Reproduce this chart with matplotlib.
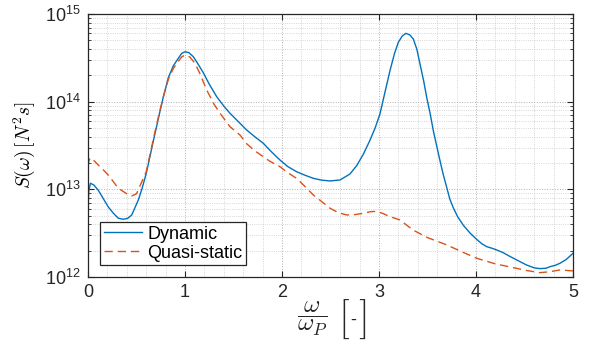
import numpy as np
import matplotlib
matplotlib.use("Agg")
import matplotlib.pyplot as plt
from matplotlib.ticker import LogLocator, MultipleLocator, NullFormatter

plt.rcParams['font.family'] = ['Liberation Sans', 'DejaVu Sans']
plt.rcParams['mathtext.fontset'] = 'cm'

# frequency ratio omega/omega_P and log10 of the spectrum S(omega)
w_dyn = [0.0, 0.008, 0.025, 0.06, 0.106, 0.16, 0.209, 0.26, 0.312, 0.364,
         0.41, 0.451, 0.519, 0.56, 0.60, 0.64, 0.673, 0.71, 0.742, 0.78,
         0.83, 0.88, 0.931, 0.965, 1.0, 1.04, 1.086, 1.14, 1.189, 1.25,
         1.327, 1.40, 1.464, 1.567, 1.636, 1.72, 1.807, 1.89, 1.979, 2.06,
         2.15, 2.24, 2.323, 2.41, 2.495, 2.598, 2.70, 2.77, 2.838, 2.907,
         2.96, 3.01, 3.06, 3.113, 3.16, 3.199, 3.24, 3.278, 3.32, 3.354,
         3.39, 3.423, 3.46, 3.492, 3.53, 3.56, 3.60, 3.629, 3.66, 3.698,
         3.73, 3.766, 3.81, 3.87, 3.94, 4.007, 4.06, 4.11, 4.16, 4.213,
         4.28, 4.35, 4.42, 4.52, 4.60, 4.66, 4.72, 4.763, 4.82, 4.866,
         4.93, 5.0]
logS_dyn = [12.76, 12.98, 13.07, 13.05, 12.99, 12.89, 12.80, 12.73, 12.671, 12.659,
            12.67, 12.708, 12.879, 13.02, 13.18, 13.38, 13.55, 13.73, 13.89, 14.07,
            14.28, 14.41, 14.495, 14.55, 14.57, 14.56, 14.513, 14.42, 14.33, 14.20,
            14.057, 13.95, 13.868, 13.754, 13.677, 13.60, 13.526, 13.43, 13.335, 13.26,
            13.202, 13.16, 13.126, 13.105, 13.096, 13.107, 13.175, 13.27, 13.40, 13.56,
            13.70, 13.86, 14.10, 14.353, 14.55, 14.677, 14.75, 14.78, 14.76, 14.715,
            14.60, 14.43, 14.24, 14.05, 13.85, 13.67, 13.47, 13.327, 13.18, 13.024,
            12.89, 12.79, 12.69, 12.59, 12.50, 12.43, 12.38, 12.347, 12.33, 12.309,
            12.278, 12.235, 12.195, 12.138, 12.105, 12.096, 12.10, 12.118, 12.135, 12.157,
            12.20, 12.27]

w_qs = [0.0, 0.01, 0.025, 0.06, 0.106, 0.16, 0.209, 0.26, 0.312, 0.40,
        0.45, 0.50, 0.54, 0.60, 0.64, 0.673, 0.71, 0.742, 0.78, 0.83,
        0.88, 0.931, 0.965, 1.0, 1.05, 1.103, 1.15, 1.224, 1.30, 1.361,
        1.464, 1.567, 1.636, 1.72, 1.807, 1.876, 1.979, 2.06, 2.15, 2.24,
        2.323, 2.41, 2.495, 2.58, 2.667, 2.75, 2.838, 2.91, 2.976, 3.04,
        3.113, 3.216, 3.35, 3.50, 3.70, 3.85, 4.007, 4.2, 4.385, 4.52,
        4.66, 4.76, 4.866, 5.0]
logS_qs = [13.26, 13.33, 13.36, 13.33, 13.278, 13.22, 13.164, 13.09, 13.013, 12.95,
           12.925, 12.95, 13.05, 13.20, 13.40, 13.57, 13.75, 13.90, 14.07, 14.26,
           14.38, 14.46, 14.51, 14.532, 14.51, 14.438, 14.33, 14.133, 13.97, 13.868,
           13.715, 13.62, 13.52, 13.44, 13.373, 13.32, 13.259, 13.19, 13.126, 13.03,
           12.936, 12.86, 12.785, 12.735, 12.708, 12.712, 12.727, 12.745, 12.75, 12.725,
           12.689, 12.651, 12.537, 12.45, 12.366, 12.29, 12.214, 12.15, 12.107, 12.075,
           12.05, 12.06, 12.081, 12.07]

fig = plt.figure(figsize=(5.89, 3.45), dpi=100)
ax = fig.add_axes([0.1494, 0.197, 0.8234, 0.7623])

ax.plot(w_dyn, 10.0 ** np.array(logS_dyn), color='#0072BD', lw=1.0, label='Dynamic')
ax.plot(w_qs, 10.0 ** np.array(logS_qs), color='#D95319', lw=1.0,
        dashes=(6, 3.5), label='Quasi-static')

ax.set_yscale('log')
ax.set_xlim(0, 5)
ax.set_ylim(1e12, 1e15)
ax.xaxis.set_major_locator(MultipleLocator(1))
ax.xaxis.set_minor_locator(MultipleLocator(0.2))
ax.yaxis.set_major_locator(LogLocator(base=10, numticks=10))
ax.yaxis.set_minor_locator(LogLocator(base=10, subs=np.arange(2, 10), numticks=20))
ax.yaxis.set_minor_formatter(NullFormatter())

ax.grid(True, which='major', linestyle=':', color='#b0b0b0', lw=0.7)
ax.grid(True, which='minor', linestyle=':', color='#c8c8c8', lw=0.6)
ax.set_axisbelow(True)

ax.tick_params(which='both', direction='in', top=True, right=True,
               colors='#262626', labelsize=13)
ax.tick_params(which='major', length=4, width=0.8, pad=5)
ax.tick_params(which='minor', length=2.5, width=0.6)
ax.tick_params(axis='x', which='minor', length=0)
for s in ax.spines.values():
    s.set_color('#262626')
    s.set_linewidth(0.9)

# x label: fraction, then the unit "-" between tall brackets
lab = dict(ha='center', va='center', color='#262626')
fig.text(312 / 589, 1 - 319 / 345, r'$\dfrac{\omega}{\omega_P}$', fontsize=18, **lab)
fig.text(344 / 589, 1 - 319 / 345, r'$[$', fontsize=28, **lab)
fig.text(353 / 589, 1 - 320 / 345, '-', fontsize=13, **lab)
fig.text(362 / 589, 1 - 319 / 345, r'$]$', fontsize=28, **lab)

ax.set_ylabel(r'$S(\omega)\,[N^2s]$', fontsize=14, labelpad=6)

leg = ax.legend(loc='lower left', bbox_to_anchor=(0.025, 0.045), fontsize=13,
                fancybox=False, framealpha=1, edgecolor='#262626',
                handlelength=2.1, borderpad=0.2, labelspacing=0.1,
                handletextpad=0.3, borderaxespad=0)
leg.get_frame().set_linewidth(0.9)

fig.savefig('out.png', dpi=100, facecolor='white')
